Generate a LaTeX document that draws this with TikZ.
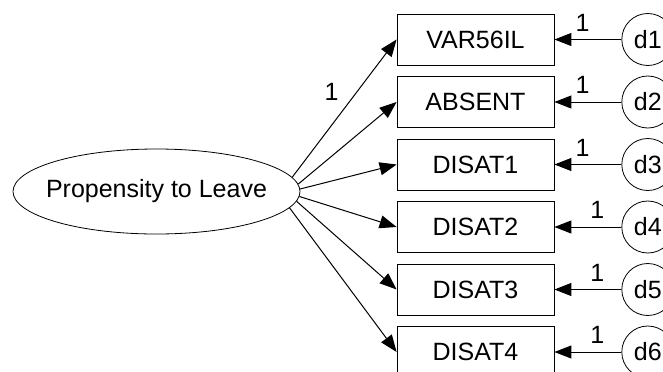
\documentclass[tikz,border=0pt]{standalone}
\usepackage{fontspec}
\setmainfont{Liberation Sans}
\usetikzlibrary{arrows.meta,positioning,shapes.geometric}
\newcommand{\diagfont}{\fontsize{12.5pt}{15pt}\selectfont}
\tikzset{
  latent/.style={draw, ellipse, minimum width=143.5pt, minimum height=42.5pt,
                 inner sep=0pt, font=\diagfont},
  obs/.style={draw, minimum width=78.5pt, minimum height=25.5pt, inner sep=0pt,
              font=\diagfont},
  err/.style={draw, circle, minimum size=26pt, inner sep=0pt, font=\diagfont},
  flow/.style={-{Triangle[length=8.5pt,width=6.5pt]}, line width=0.5pt},
  lbl/.style={font=\diagfont, inner sep=1pt}
}
\begin{document}
\begin{tikzpicture}[node distance=5.35pt]
  \useasboundingbox (-78.25pt,-89.75pt) rectangle (253.25pt,95.75pt);
  \node[latent] (leave) {\makebox[80pt]{Propensity to Leave}};
  % indicators
  \node[obs] (var56il) at (159.5pt,76pt) {VAR56IL};
  \node[obs, below=of var56il] (absent) {ABSENT};
  \node[obs, below=of absent] (disat1) {DISAT1};
  \node[obs, below=of disat1] (disat2) {DISAT2};
  \node[obs, below=of disat2] (disat3) {DISAT3};
  \node[obs, below=of disat3] (disat4) {DISAT4};
  % error terms
  \node[err, right=33.5pt of var56il] (d1) {d1};
  \node[err, right=33.5pt of absent] (d2) {d2};
  \node[err, right=33.5pt of disat1] (d3) {d3};
  \node[err, right=33.5pt of disat2] (d4) {d4};
  \node[err, right=33.5pt of disat3] (d5) {d5};
  \node[err, right=33.5pt of disat4] (d6) {d6};
  % loadings
  \draw[flow] (leave.6) -- (var56il.west) node[lbl, pos=0.62, left=8pt] {1};
  \draw[flow] (leave.3.5) -- (absent.west);
  \draw[flow] (leave.1) -- (disat1.west);
  \draw[flow] (leave.-2) -- (disat2.west);
  \draw[flow] (leave.-4.5) -- (disat3.west);
  \draw[flow] (leave.-7) -- (disat4.west);
  % errors
  \draw[flow] (d1) -- (var56il.east) node[lbl, pos=0.58, above=3pt] {1};
  \draw[flow] (d2) -- (absent.east) node[lbl, pos=0.58, above=3pt] {1};
  \draw[flow] (d3) -- (disat1.east) node[lbl, pos=0.58, above=3pt] {1};
  \draw[flow] (d4) -- (disat2.east) node[lbl, pos=0.36, above=3pt] {1};
  \draw[flow] (d5) -- (disat3.east) node[lbl, pos=0.36, above=3pt] {1};
  \draw[flow] (d6) -- (disat4.east) node[lbl, pos=0.36, above=3pt] {1};
\end{tikzpicture}
\end{document}
